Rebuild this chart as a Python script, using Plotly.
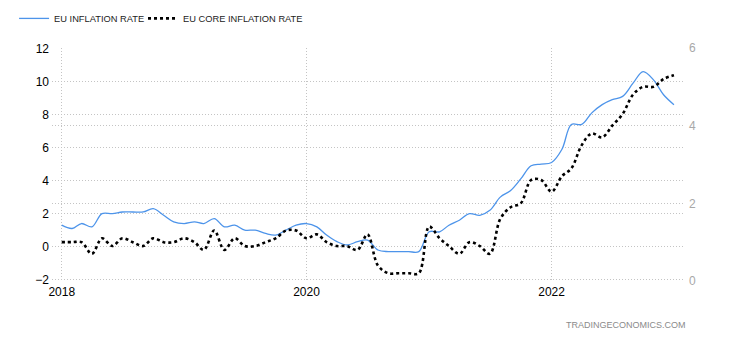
import pandas as pd
import plotly.graph_objects as go

months = pd.date_range("2018-01-01", periods=61, freq="MS")

inflation = [
    1.3, 1.1, 1.4, 1.2, 2.0, 2.0, 2.1, 2.1, 2.1, 2.3, 1.9, 1.5,
    1.4, 1.5, 1.4, 1.7, 1.2, 1.3, 1.0, 1.0, 0.8, 0.7, 1.0, 1.3,
    1.4, 1.2, 0.7, 0.3, 0.1, 0.3, 0.4, -0.2, -0.3, -0.3, -0.3, -0.3,
    0.9, 0.9, 1.3, 1.6, 2.0, 1.9, 2.2, 3.0, 3.4, 4.1, 4.9, 5.0,
    5.1, 5.9, 7.4, 7.4, 8.1, 8.6, 8.9, 9.1, 9.9, 10.6, 10.1, 9.2,
    8.6,
]

core = [
    1.0, 1.0, 1.0, 0.7, 1.1, 0.9, 1.1, 1.0, 0.9, 1.1, 1.0, 1.0,
    1.1, 1.0, 0.8, 1.3, 0.8, 1.1, 0.9, 0.9, 1.0, 1.1, 1.3, 1.3,
    1.1, 1.2, 1.0, 0.9, 0.9, 0.8, 1.2, 0.4, 0.2, 0.2, 0.2, 0.2,
    1.4, 1.1, 0.9, 0.7, 1.0, 0.9, 0.7, 1.6, 1.9, 2.0, 2.6, 2.6,
    2.3, 2.7, 2.9, 3.5, 3.8, 3.7, 4.0, 4.3, 4.8, 5.0, 5.0, 5.2,
    5.3,
]

left_ticks = [-2, 0, 2, 4, 6, 8, 10, 12]
right_ticks = [0, 2, 4, 6]
x_ticks = ["2018-01-01", "2020-01-01", "2022-01-01"]
x_tick_labels = ["2018", "2020", "2022"]

FONT = "Liberation Sans, Arial, sans-serif"
GRID = "#c4c4c4"
GRID_DASH = "1px,2px"

fig = go.Figure()
fig.add_trace(go.Scatter(
    x=months, y=inflation, name="EU INFLATION RATE", mode="lines",
    line=dict(color="#4d94ea", width=1.3, shape="spline", smoothing=1.0),
    yaxis="y", legend="legend",
))
fig.add_trace(go.Scatter(
    x=months, y=core, name="EU CORE INFLATION RATE", mode="lines",
    line=dict(color="#000000", width=2.6, dash="dot", shape="spline", smoothing=1.0),
    yaxis="y2", legend="legend2",
))

legend_common = dict(
    orientation="h", xanchor="left", y=1.127, yanchor="middle",
    font=dict(family=FONT, size=9.3, color="#222"),
    bgcolor="rgba(0,0,0,0)", itemwidth=30,
)

fig.update_layout(
    width=730, height=340,
    margin=dict(l=52, r=46, t=48, b=59, autoexpand=False),
    paper_bgcolor="white", plot_bgcolor="white",
    font=dict(family=FONT, size=12, color="#000"),
    showlegend=True,
    legend=dict(x=-0.060, **legend_common),
    legend2=dict(x=0.144, **legend_common),
    xaxis=dict(
        type="date",
        range=["2017-12-03", "2023-01-31"],
        tickvals=x_ticks, ticktext=x_tick_labels,
        showgrid=True, gridcolor=GRID, griddash=GRID_DASH, gridwidth=1,
        zeroline=False, showline=False, ticks="",
        tickfont=dict(family=FONT, size=12, color="#000"),
        ticklabelstandoff=2,
    ),
    yaxis=dict(
        range=[-2.08, 12.03],
        tickvals=left_ticks,
        showgrid=True, gridcolor=GRID, griddash=GRID_DASH, gridwidth=1,
        zeroline=False, showline=False, ticks="",
        tickfont=dict(family=FONT, size=12, color="#000"),
        ticklabelstandoff=2,
    ),
    yaxis2=dict(
        range=[0, 6], overlaying="y", side="right",
        tickvals=right_ticks,
        showgrid=True, gridcolor=GRID, griddash=GRID_DASH, gridwidth=1,
        zeroline=False, showline=False, ticks="",
        tickfont=dict(family=FONT, size=12, color="#a8a8a8"),
        ticklabelstandoff=4,
    ),
    annotations=[dict(
        text="TRADINGECONOMICS.COM", xref="paper", yref="paper",
        x=1.006, y=-0.19, xanchor="right", yanchor="middle", showarrow=False,
        font=dict(family=FONT, size=9, color="#8a8a8a"),
    )],
)

fig.write_html("out.html")
